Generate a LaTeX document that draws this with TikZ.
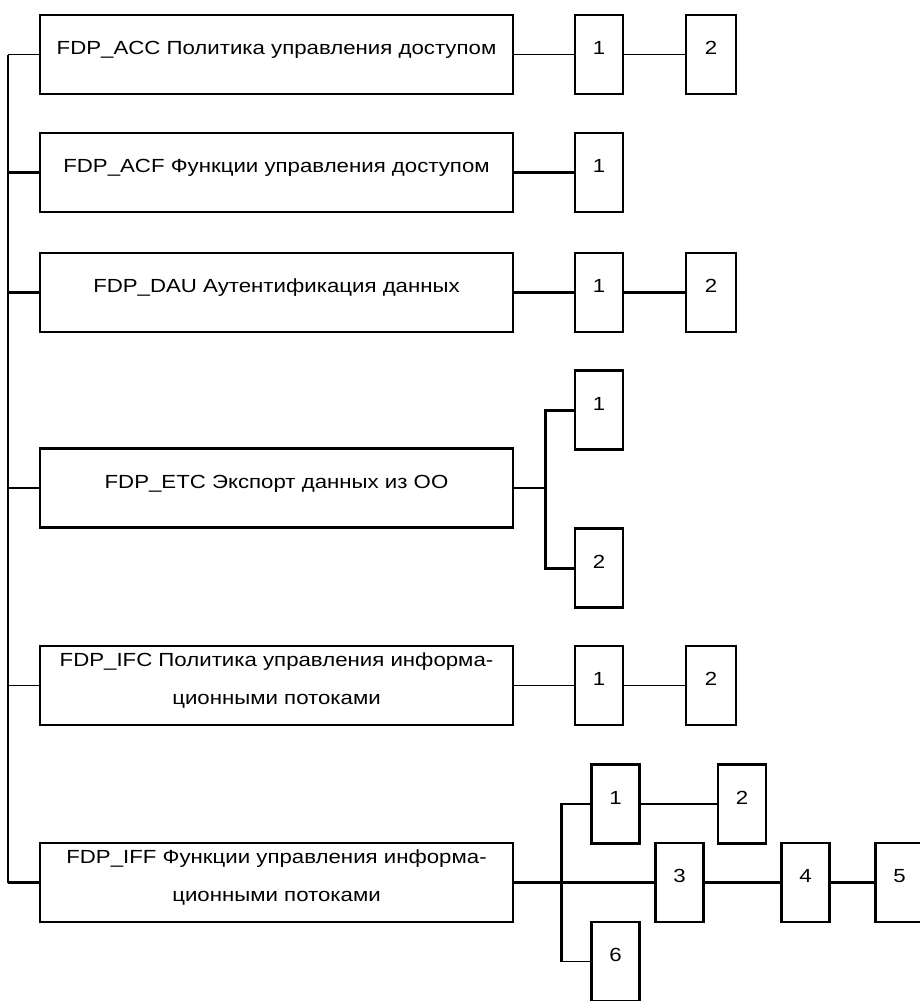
\documentclass[tikz,border=0pt]{standalone}
\usepackage{fontspec}
\setmainfont{Liberation Sans}[FakeStretch=1.17]
\usetikzlibrary{calc}
\begin{document}
\begin{tikzpicture}[x=1pt,y=-1pt,
  box/.style={draw, line width=2.4pt, inner sep=0pt, align=center,
    font=\fontsize{19pt}{38pt}\selectfont, text height=8pt, text depth=8pt,
    minimum height=79pt},
  mainbox/.style={box, minimum width=473pt},
  twoline/.style={text height=46pt, text depth=8pt},
  sbox/.style={box, minimum width=48pt},
  wbox/.style={box, minimum width=50pt},
  thin/.style={line width=1.6pt},
  thick/.style={line width=3pt}]
\useasboundingbox (0,0) rectangle (919,1001);
% main boxes
\node[mainbox] (ACC) at (276.5,54.5) {FDP\_ACC Политика управления доступом};
\node[mainbox] (ACF) at (276.5,172.5) {FDP\_ACF Функции управления доступом};
\node[mainbox] (DAU) at (276.5,292.5) {FDP\_DAU Аутентификация данных};
\node[mainbox] (ETC) at (276.5,488) {FDP\_ETC Экспорт данных из ОО};
\node[mainbox,twoline] (IFC) at (276.5,685.5) {FDP\_IFC Политика управления информа-\\ционными потоками};
\node[mainbox,twoline] (IFF) at (276.5,882.5) {FDP\_IFF Функции управления информа-\\ционными потоками};
% small boxes
\node[sbox] (ACC1) at (599,54.5) {1};
\node[wbox] (ACC2) at (711,54.5) {2};
\node[sbox] (ACF1) at (599,172.5) {1};
\node[sbox] (DAU1) at (599,292.5) {1};
\node[wbox] (DAU2) at (711,292.5) {2};
\node[sbox] (ETC1) at (599,410) {1};
\node[sbox] (ETC2) at (599,568) {2};
\node[sbox] (IFC1) at (599,685.5) {1};
\node[wbox] (IFC2) at (711,685.5) {2};
\node[sbox] (IFF1) at (615.5,804) {1};
\node[sbox] (IFF2) at (742,804) {2};
\node[sbox] (IFF3) at (679.5,882.5) {3};
\node[sbox] (IFF4) at (805.5,882.5) {4};
\node[sbox] (IFF5) at (899.5,882.5) {5};
\node[sbox] (IFF6) at (615.5,961.5) {6};
% spine
\draw[thin] (ACC.west) -- ++(-31,0) coordinate (spTop);
\draw[thin] (spTop) |- (IFF.west);
\draw[thick] (IFF.west) -- ++(-31,0);
\draw[thick] (ACF.west) -- ++(-31,0);
\draw[thick] (DAU.west) -- ++(-31,0);
\draw[thin] (ETC.west) -- ++(-31,0);
\draw[thin] (IFC.west) -- ++(-31,0);
% right connectors
\draw[thin] (ACC) -- (ACC1);
\draw[thin] (ACC1) -- (ACC2);
\draw[thick] (ACF) -- (ACF1);
\draw[thick] (DAU) -- (DAU1);
\draw[thick] (DAU1) -- (DAU2);
\draw[thin] (ETC.east) -- ++(31,0) coordinate (etcJ);
\draw[thick] (ETC1.west) -| (etcJ) |- (ETC2.west);
\draw[thin] (IFC) -- (IFC1);
\draw[thin] (IFC1) -- (IFC2);
\draw[thick] (IFF) -- (IFF3);
\draw[thick] (IFF3) -- (IFF4);
\draw[thick] (IFF4) -- (IFF5);
\coordinate (iffJ) at ($(IFF.east)+(47,0)$);
\draw[thin] (IFF1.west) -| (iffJ);
\draw[thick] (iffJ |- IFF1.west) -- (iffJ |- IFF6.west);
\draw[thin] (iffJ |- IFF6.west) -- (IFF6.west);
\draw[thin] (IFF1) -- (IFF2);
\end{tikzpicture}
\end{document}
